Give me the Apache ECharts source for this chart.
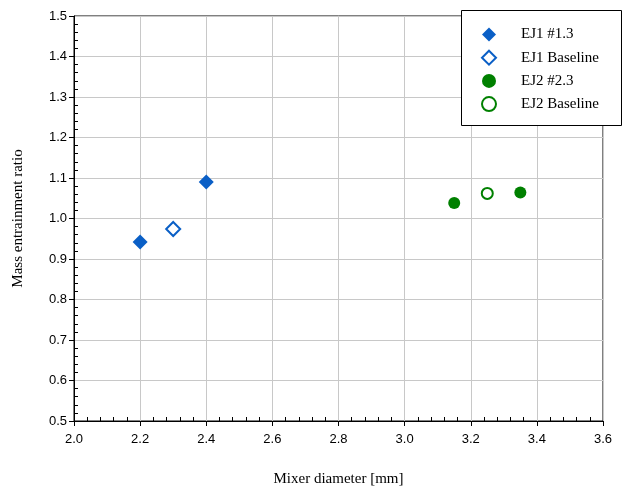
<!DOCTYPE html>
<html><head><meta charset="utf-8">
<script src="https://cdn.jsdelivr.net/npm/echarts@6/dist/echarts.min.js"></script>
<style>html,body{margin:0;padding:0;background:#fff}#c{width:622px;height:488px}</style>
</head><body><div id="c"></div>
<script>
const seriesNames = ['EJ1 #1.3', 'EJ1 Baseline', 'EJ2 #2.3', 'EJ2 Baseline'];
const ej1Data = [[2.2, 0.942], [2.4, 1.090]];
const ej1BaseData = [[2.3, 0.974]];
const ej2Data = [[3.15, 1.038], [3.35, 1.064]];
const ej2BaseData = [[3.25, 1.062]];
const xRange = [2.0, 3.6];
const yRange = [0.5, 1.5];

const blue = '#0a5fc6', green = '#008000';
const serif = '"Liberation Serif","Times New Roman",serif';
const sans = '"Liberation Sans",Arial,sans-serif';

const GL = 74, GR = 19, GT = 16, GB = 67;
const plotW = 622 - GL - GR, plotH = 488 - GT - GB;

const chart = echarts.init(document.getElementById('c'));
const mainX = {
  type: 'value', min: xRange[0], max: xRange[1], interval: 0.2, position: 'bottom',
  name: 'Mixer diameter [mm]', nameLocation: 'middle', nameGap: 51,
  nameTextStyle: {fontFamily: serif, fontSize: 15, color: '#000'},
  axisLine: {show: true, onZero: false, lineStyle: {color: '#000', width: 1}},
  axisTick: {show: true, inside: false, length: 5, lineStyle: {color: '#000'}},
  axisLabel: {fontFamily: sans, fontSize: 13, color: '#000', margin: 12, formatter: v => v.toFixed(1)},
  splitLine: {show: true, lineStyle: {color: '#c8c8c8', width: 1}}
};
const minorX = {
  type: 'value', min: xRange[0], max: xRange[1], interval: 0.2, position: 'top', offset: -plotH,
  axisLine: {show: false, onZero: false}, axisLabel: {show: false},
  axisTick: {show: false},
  minorTick: {show: true, splitNumber: 5, length: 4, lineStyle: {color: '#000'}},
  splitLine: {show: false}
};
const mainY = {
  type: 'value', min: yRange[0], max: yRange[1], interval: 0.1, position: 'left',
  name: 'Mass entrainment ratio', nameLocation: 'middle', nameGap: 48,
  nameTextStyle: {fontFamily: serif, fontSize: 15, color: '#000'},
  axisLine: {show: true, onZero: false, lineStyle: {color: '#000', width: 1}},
  axisTick: {show: true, inside: false, length: 5, lineStyle: {color: '#000'}},
  axisLabel: {fontFamily: sans, fontSize: 13, color: '#000', margin: 7, formatter: v => v.toFixed(1)},
  splitLine: {show: true, lineStyle: {color: '#c8c8c8', width: 1}}
};
const minorY = {
  type: 'value', min: yRange[0], max: yRange[1], interval: 0.1, position: 'right', offset: -plotW,
  axisLine: {show: false, onZero: false}, axisLabel: {show: false},
  axisTick: {show: false},
  minorTick: {show: true, splitNumber: 5, length: 4, lineStyle: {color: '#000'}},
  splitLine: {show: false}
};

chart.setOption({
  animation: false,
  backgroundColor: '#fff',
  grid: {left: GL, right: GR, top: GT, bottom: GB, show: true, borderColor: '#000', borderWidth: 1,
    backgroundColor: 'transparent', containLabel: false, outerBoundsMode: 'none'},
  xAxis: [mainX, minorX],
  yAxis: [mainY, minorY],
  graphic: [{type: 'rect', left: 461, top: 10, z: 50, shape: {width: 160, height: 115},
    style: {fill: '#fff', stroke: '#000', lineWidth: 1}}],
  legend: {
    orient: 'vertical', left: 481, top: 27, z: 60, itemGap: 7.7,
    itemWidth: 14, itemHeight: 14, padding: 0,
    textStyle: {fontFamily: serif, fontSize: 15, color: '#000', padding: [0, 0, 0, 20]},
    data: seriesNames
  },
  series: [
    {name: seriesNames[0], type: 'scatter', data: ej1Data, symbol: 'diamond', symbolSize: 15,
     itemStyle: {color: blue, opacity: 1}},
    {name: seriesNames[1], type: 'scatter', data: ej1BaseData, symbol: 'diamond', symbolSize: 14,
     itemStyle: {color: '#fff', borderColor: blue, borderWidth: 2, opacity: 1}},
    {name: seriesNames[2], type: 'scatter', data: ej2Data, symbol: 'circle', symbolSize: 12,
     itemStyle: {color: green, opacity: 1}},
    {name: seriesNames[3], type: 'scatter', data: ej2BaseData, symbol: 'circle', symbolSize: 11,
     itemStyle: {color: '#fff', borderColor: green, borderWidth: 2, opacity: 1}}
  ]
});
</script></body></html>
